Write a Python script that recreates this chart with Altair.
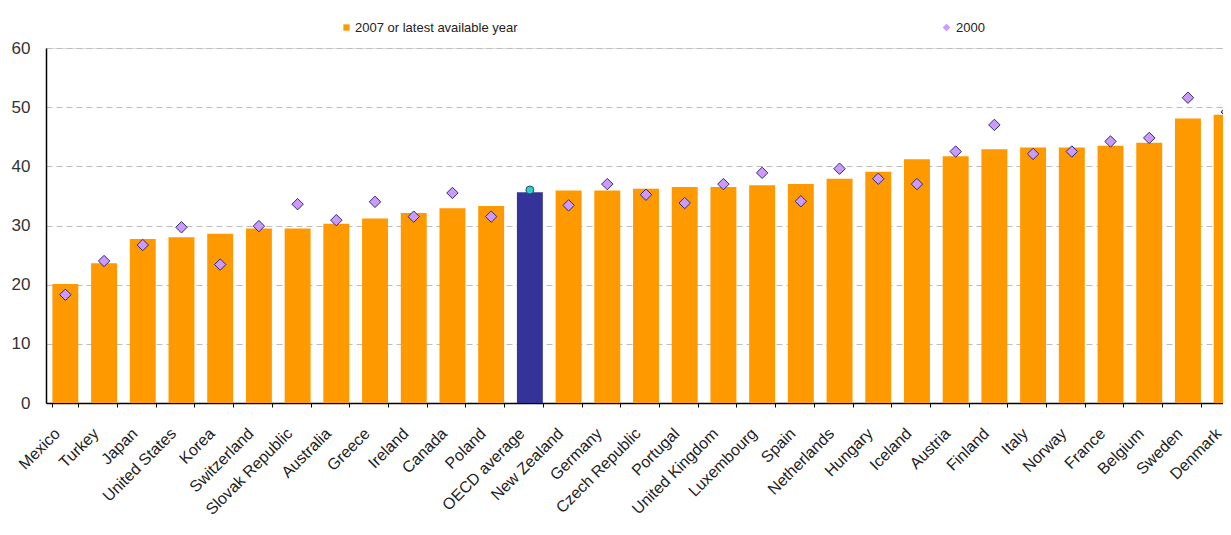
import altair as alt
import pandas as pd

countries = ["Mexico", "Turkey", "Japan", "United States", "Korea", "Switzerland",
             "Slovak Republic", "Australia", "Greece", "Ireland", "Canada", "Poland",
             "OECD average", "New Zealand", "Germany", "Czech Republic", "Portugal",
             "United Kingdom", "Luxembourg", "Spain", "Netherlands", "Hungary", "Iceland",
             "Austria", "Finland", "Italy", "Norway", "France", "Belgium", "Sweden", "Denmark"]
v2007 = [20.1, 23.6, 27.7, 28.0, 28.6, 29.5, 29.5, 30.3, 31.2, 32.1, 32.9, 33.3,
         35.6, 35.9, 35.9, 36.2, 36.5, 36.5, 36.8, 37.0, 37.9, 39.1, 41.2,
         41.7, 42.9, 43.2, 43.2, 43.5, 44.0, 48.1, 48.7]
v2000 = [18.3, 24.0, 26.7, 29.7, 23.4, 29.9, 33.6, 30.9, 34.0, 31.5, 35.5, 31.5,
         36.0, 33.4, 37.0, 35.2, 33.8, 37.0, 38.9, 34.1, 39.6, 37.9, 37.0,
         42.5, 47.0, 42.1, 42.5, 44.2, 44.8, 51.6, 49.2]
yticks = [0, 10, 20, 30, 40, 50, 60]
oecd = "OECD average"
s_bar = "2007 or latest available year"
s_pt = "2000"

df = pd.DataFrame({"country": countries, "v2007": v2007, "v2000": v2000})
df["series"] = s_bar
df["series2"] = s_pt

FONT = "Liberation Sans"

x = alt.X("country:N", sort=countries, title=None,
          scale=alt.Scale(range=[0, 1200], paddingInner=0.33, paddingOuter=0.165),
          axis=alt.Axis(labelAngle=-45, labelAlign="right", labelBaseline="top",
                        labelFontSize=16, labelColor="#222222", labelFont=FONT,
                        labelPadding=18, labelOffset=-14, tickBand="extent",
                        tickSize=4, tickColor="#000000", domainColor="#000000",
                        domainWidth=1.5, grid=False, labelOverlap=False))
y = alt.Y("v2007:Q", title=None,
          scale=alt.Scale(domain=[0, 60], nice=False),
          axis=alt.Axis(values=yticks, ticks=False, labelFontSize=17, labelFont=FONT,
                        labelColor="#333333", labelPadding=16, domainColor="#000000",
                        domainWidth=1.5, gridColor="#BDBDBD", gridDash=[6, 4],
                        gridWidth=1.2))

base = alt.Chart(df)

bars = base.transform_filter(alt.datum.country != oecd).mark_bar(clip=True).encode(
    x=x, y=y,
    color=alt.Color("series:N", scale=alt.Scale(domain=[s_bar], range=["#FF9900"]),
                    legend=alt.Legend(orient="none", legendX=294, legendY=-27, title=None,
                                      symbolType="square", symbolSize=40, labelFontSize=13,
                                      labelFont=FONT, labelColor="#222222", padding=0,
                                      labelOffset=2, symbolStrokeWidth=0, labelLimit=400)))

bar_oecd = base.transform_filter(alt.datum.country == oecd).mark_bar(
    color="#333399", clip=True).encode(x=x, y=y)

pts = base.transform_filter(alt.datum.country != oecd).mark_point(
    filled=True, fill="#CC99FF", stroke="#2E2E6E", strokeWidth=1, size=130,
    opacity=1, clip=True).encode(
    x=x,
    y=alt.Y("v2000:Q"),
    shape=alt.Shape("series2:N", scale=alt.Scale(domain=[s_pt], range=["diamond"]),
                    legend=alt.Legend(orient="none", legendX=894, legendY=-27, title=None,
                                      symbolSize=60, labelFontSize=13, labelFont=FONT,
                                      labelColor="#222222", padding=0, labelOffset=3,
                                      symbolFillColor="#CC99FF", labelLimit=200,
                                      symbolStrokeColor="#2E2E6E", symbolStrokeWidth=1)))

pt_oecd = base.transform_filter(alt.datum.country == oecd).mark_point(
    filled=True, shape="circle", fill="#33CCCC", stroke="#1F4F6F", strokeWidth=1,
    size=64, opacity=1).encode(x=x, y=alt.Y("v2000:Q"))

chart = alt.layer(bars, bar_oecd, pts, pt_oecd).properties(
    width=1177, height=355,
    autosize=alt.AutoSizeParams(type="none"),
    padding={"left": 38, "top": 40, "right": 0, "bottom": 120},
).configure_view(stroke="#888888", strokeWidth=1.5).configure(background="white")

chart.save("out.html", embed_options={"renderer": "svg", "actions": False})
